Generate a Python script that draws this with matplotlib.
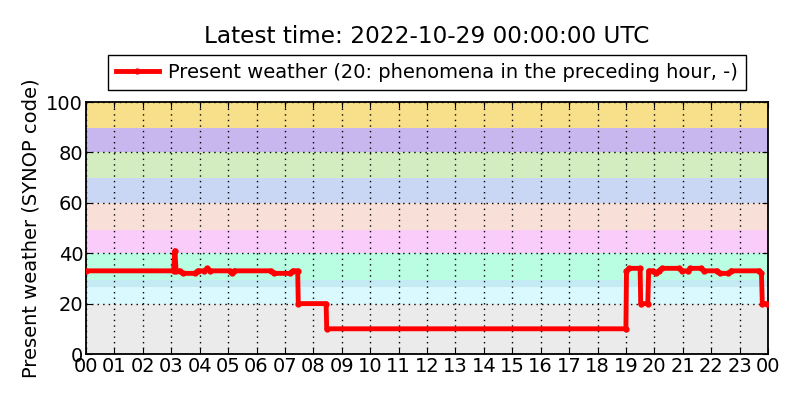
import matplotlib
matplotlib.use('Agg')
import matplotlib.pyplot as plt

# readings: hour of day (UTC) and SYNOP present weather code
hours = [0.00, 3.08, 3.13, 3.17, 3.30, 3.40, 3.83, 3.93, 4.17, 4.27, 4.37,
         5.05, 5.13, 5.22, 6.50, 6.62, 7.17, 7.28, 7.45, 7.47, 8.45, 8.47,
         19.00, 19.02, 19.12, 19.50, 19.52, 19.77, 19.80, 19.95, 20.05, 20.15,
         20.27, 20.88, 20.98, 21.17, 21.27, 21.65, 21.75, 22.20, 22.30, 22.60,
         22.70, 23.70, 23.77, 23.80, 23.95]
ww = [33, 33, 41, 33, 33, 32, 32, 33, 33, 34, 33,
      33, 32, 33, 33, 32, 32, 33, 33, 20, 20, 10,
      10, 33, 34, 34, 20, 20, 33, 33, 32, 33,
      34, 34, 33, 33, 34, 34, 33, 33, 32, 32,
      33, 33, 32, 20, 20]

# background bands of code groups
band_lo = [0, 20, 26.6, 29.4, 40, 49.4, 60, 69.8, 80.2, 89.7]
band_hi = [20, 29.4, 29.4, 40, 49.4, 60, 69.8, 80.2, 89.7, 100]
band_col = ['#ebebeb', '#d9f9fe', '#c4ebf3', '#b9fde3', '#f9ccfa',
            '#f8e0d8', '#c9d7f5', '#d3edc1', '#c8b7ef', '#f8df8a']

tick_hours = list(range(25))
tick_labels = ['%02d' % (h % 24) for h in tick_hours]

plt.rcParams['font.family'] = 'DejaVu Sans'
fig = plt.figure(figsize=(8, 4), dpi=100)
ax = fig.add_axes([0.1075, 0.115, 0.8525, 0.63])

for lo, hi, c in zip(band_lo, band_hi, band_col):
    ax.axhspan(lo, hi, color=c, lw=0, zorder=0)

ax.plot(hours, ww, color='red', lw=3.5, marker='.', ms=7,
        label='Present weather (20: phenomena in the preceding hour, -)', zorder=3)

ax.set_xlim(0, 24)
ax.set_ylim(0, 100)
ax.set_xticks(tick_hours)
ax.set_xticklabels(tick_labels)
ax.set_yticks([0, 20, 40, 60, 80, 100])
ax.tick_params(direction='in', top=True, right=True, labelsize=14, length=4, pad=2)
ax.grid(True, color='k', linestyle=(0, (1, 3)), lw=1)
ax.set_axisbelow(False)
for s in ax.spines.values():
    s.set_linewidth(1.3)
ax.set_ylabel('Present weather (SYNOP code)', fontsize=14)

ax.set_title('Latest time: 2022-10-29 00:00:00 UTC', fontsize=16.7, y=1.2)
leg = ax.legend(loc='lower center', bbox_to_anchor=(0.5, 1.048), fontsize=14,
                fancybox=False, framealpha=1, edgecolor='k', borderaxespad=0,
                handlelength=2.2, handletextpad=0.5)
leg.get_frame().set_linewidth(1.0)

fig.savefig('out.png', dpi=100)
